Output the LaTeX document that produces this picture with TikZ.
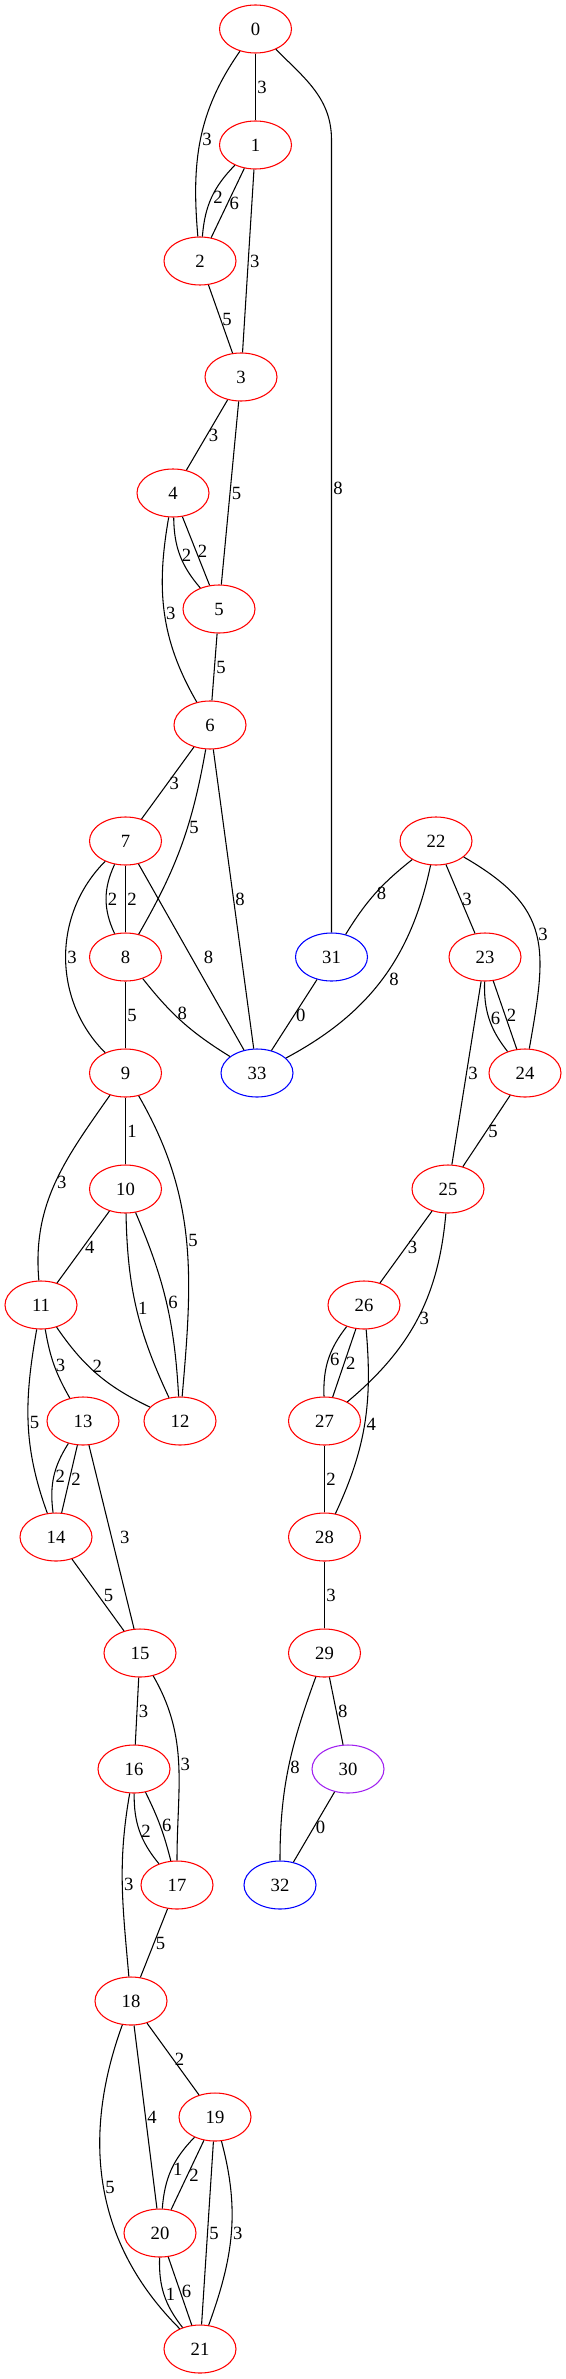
\documentclass[tikz,border=0pt]{standalone}
\usepackage{fontspec}
\setmainfont{Liberation Serif}
\usetikzlibrary{shapes.geometric}
\definecolor{vpurple}{HTML}{A020F0}
\tikzset{
  vtx/.style={ellipse,draw=red,minimum width=54pt,minimum height=36pt,inner sep=0pt,font=\fontsize{14}{16}\selectfont},
  bvtx/.style={vtx,draw=blue},
  pvtx/.style={vtx,draw=vpurple},
  lbl/.style={anchor=west,inner sep=1pt,font=\fontsize{14}{16}\selectfont}
}
\begin{document}
\begin{tikzpicture}[x=0.75pt,y=0.75pt,line width=0.8pt]
        \useasboundingbox (0,0) rectangle (565,-2379);
        \node[vtx] (n0) at (255.5,-29) {0};
        \node[vtx] (n1) at (255.5,-145) {1};
        \node[vtx] (n2) at (200,-261) {2};
        \node[vtx] (n3) at (241,-377) {3};
        \node[vtx] (n4) at (173,-493) {4};
        \node[vtx] (n5) at (219,-609) {5};
        \node[vtx] (n6) at (210,-725) {6};
        \node[vtx] (n7) at (125.5,-841) {7};
        \node[vtx] (n8) at (125.5,-957) {8};
        \node[vtx] (n9) at (125.5,-1073) {9};
        \node[vtx] (n10) at (125.5,-1189) {10};
        \node[vtx] (n11) at (41,-1305) {11};
        \node[vtx] (n12) at (180,-1421) {12};
        \node[vtx] (n13) at (83,-1421) {13};
        \node[vtx] (n14) at (56,-1537) {14};
        \node[vtx] (n15) at (140,-1653) {15};
        \node[vtx] (n16) at (134,-1769) {16};
        \node[vtx] (n17) at (177,-1885) {17};
        \node[vtx] (n18) at (131,-2001) {18};
        \node[vtx] (n19) at (215,-2117) {19};
        \node[vtx] (n20) at (160,-2233) {20};
        \node[vtx] (n21) at (200,-2349) {21};
        \node[vtx] (n22) at (436,-841) {22};
        \node[vtx] (n23) at (485,-957) {23};
        \node[vtx] (n24) at (525,-1073) {24};
        \node[vtx] (n25) at (448,-1189) {25};
        \node[vtx] (n26) at (364,-1305) {26};
        \node[vtx] (n27) at (324.5,-1421) {27};
        \node[vtx] (n28) at (324.5,-1537) {28};
        \node[vtx] (n29) at (324.5,-1653) {29};
        \node[pvtx] (n30) at (348,-1769) {30};
        \node[bvtx] (n31) at (331.5,-957) {31};
        \node[bvtx] (n32) at (280,-1885) {32};
        \node[bvtx] (n33) at (257,-1073) {33};
        \draw (n0) -- node[lbl]{3} (n1);
        \draw (n0) to[out=235,in=95] node[lbl]{3} (n2);
        \draw (n0) to[out=-45,in=90] (331.5,-140) -- node[lbl,pos=.44]{8} (n31);
        \draw (n1) to[bend right=20] node[lbl]{2} (n2);
        \draw (n1) -- node[lbl]{6} (n2);
        \draw (n1) -- node[lbl]{3} (n3);
        \draw (n2) -- node[lbl]{5} (n3);
        \draw (n3) -- node[lbl]{3} (n4);
        \draw (n3) -- node[lbl]{5} (n5);
        \draw (n4) to[bend right=20] node[lbl]{2} (n5);
        \draw (n4) -- node[lbl]{2} (n5);
        \draw (n4) to[out=260,in=120] node[lbl]{3} (n6);
        \draw (n5) -- node[lbl]{5} (n6);
        \draw (n6) -- node[lbl]{3} (n7);
        \draw (n6) to[out=260,in=60] node[lbl,pos=.4]{5} (n8);
        \draw (n6) -- node[lbl]{8} (n33);
        \draw (n7) to[bend right=25] node[lbl]{2} (n8);
        \draw (n7) -- node[lbl]{2} (n8);
        \draw (n7) to[out=225,in=135] node[lbl]{3} (n9);
        \draw (n7) -- node[lbl,xshift=8pt]{8} (n33);
        \draw (n8) -- node[lbl]{5} (n9);
        \draw (n8) to[bend right=10] node[lbl,anchor=south]{8} (n33);
        \draw (n9) -- node[lbl]{1} (n10);
        \draw (n9) to[out=235,in=95] node[lbl]{3} (n11);
        \draw (n9) to[out=-60,in=85] node[lbl]{5} (n12);
        \draw (n10) -- node[lbl]{4} (n11);
        \draw (n10) to[bend right=12] node[lbl]{1} (n12);
        \draw (n10) to[bend left=10] node[lbl]{6} (n12);
        \draw (n11) to[bend right=15] node[lbl,anchor=south]{2} (n12);
        \draw (n11) to[bend right=10] node[lbl]{3} (n13);
        \draw (n11) to[out=260,in=110] node[lbl]{5} (n14);
        \draw (n13) to[bend right=20] node[lbl]{2} (n14);
        \draw (n13) -- node[lbl]{2} (n14);
        \draw (n13) -- node[lbl,xshift=5pt]{3} (n15);
        \draw (n14) -- node[lbl,xshift=3pt]{5} (n15);
        \draw (n15) -- node[lbl]{3} (n16);
        \draw (n15) to[out=-60,in=90] node[lbl]{3} (n17);
        \draw (n16) to[bend right=20] node[lbl]{2} (n17);
        \draw (n16) to[bend left=6] node[lbl]{6} (n17);
        \draw (n16) to[out=260,in=95] node[lbl]{3} (n18);
        \draw (n17) -- node[lbl]{5} (n18);
        \draw (n18) -- node[lbl]{2} (n19);
        \draw (n18) -- node[lbl]{4} (n20);
        \draw (n18) to[out=250,in=135] node[lbl]{5} (n21);
        \draw (n19) to[bend right=20] node[lbl]{1} (n20);
        \draw (n19) -- node[lbl]{2} (n20);
        \draw (n19) -- node[lbl]{5} (n21);
        \draw (n19) to[out=-75,in=70] node[lbl]{3} (n21);
        \draw (n20) to[bend right=20] node[lbl]{1} (n21);
        \draw (n20) -- node[lbl]{6} (n21);
        \draw (n22) to[bend right=10] node[lbl]{8} (n31);
        \draw (n22) to[bend left=25] node[lbl,xshift=4pt]{8} (n33);
        \draw (n22) -- node[lbl]{3} (n23);
        \draw (n22) to[out=-30,in=80,looseness=1.3] node[lbl]{3} (n24);
        \draw (n23) to[bend right=20] node[lbl]{6} (n24);
        \draw (n23) -- node[lbl]{2} (n24);
        \draw (n23) -- node[lbl]{3} (n25);
        \draw (n24) -- node[lbl]{5} (n25);
        \draw (n25) -- node[lbl]{3} (n26);
        \draw (n25) to[out=265,in=40] node[lbl]{3} (n27);
        \draw (n26) to[bend right=20] node[lbl]{6} (n27);
        \draw (n26) -- node[lbl]{2} (n27);
        \draw (n26) to[out=-85,in=65] node[lbl]{4} (n28);
        \draw (n27) -- node[lbl]{2} (n28);
        \draw (n28) -- node[lbl]{3} (n29);
        \draw (n29) -- node[lbl]{8} (n30);
        \draw (n29) to[out=250,in=90] node[lbl]{8} (n32);
        \draw (n30) -- node[lbl]{0} (n32);
        \draw (n31) -- node[lbl]{0} (n33);
      \end{tikzpicture}
\end{document}
